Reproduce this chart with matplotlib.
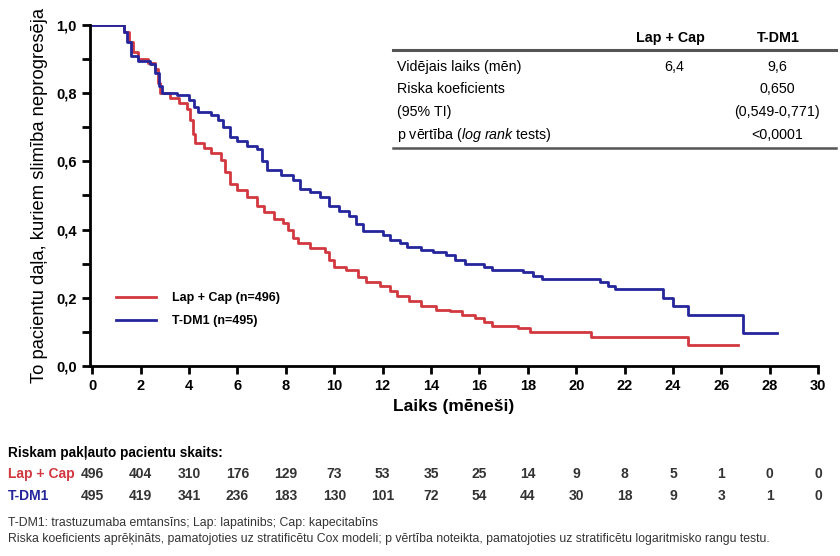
import matplotlib
matplotlib.use('Agg')
import matplotlib.pyplot as plt
import matplotlib.transforms as mtrans
from matplotlib.lines import Line2D
from matplotlib.ticker import FuncFormatter, MultipleLocator

plt.rcParams['font.family'] = ['Liberation Sans', 'DejaVu Sans']
plt.rcParams['mathtext.fontset'] = 'custom'
plt.rcParams['mathtext.it'] = 'Liberation Sans:italic'
plt.rcParams['mathtext.rm'] = 'Liberation Sans'

# Kaplan-Meier steps (months, fraction)
lap_t = [0, 1.3, 1.5, 1.7, 1.9, 2.3, 2.6, 2.7, 2.8, 3.2, 3.6, 3.9, 4.05, 4.15, 4.25,
         4.6, 4.9, 5.3, 5.5, 5.7, 6.0, 6.4, 6.8, 7.1, 7.5, 7.9, 8.1, 8.3, 8.5, 9.0,
         9.6, 9.8, 10.0, 10.5, 11.0, 11.3, 11.9, 12.3, 12.6, 13.1, 13.6, 14.2, 14.8,
         15.3, 15.8, 16.2, 16.5, 17.6, 18.1, 20.6, 24.6, 26.7]
lap_s = [1.0, 0.98, 0.95, 0.92, 0.90, 0.89, 0.87, 0.83, 0.80, 0.785, 0.77, 0.755, 0.72,
         0.68, 0.655, 0.64, 0.625, 0.605, 0.57, 0.535, 0.515, 0.495, 0.47, 0.45, 0.43,
         0.42, 0.40, 0.375, 0.36, 0.345, 0.335, 0.31, 0.29, 0.28, 0.26, 0.245, 0.235,
         0.22, 0.205, 0.19, 0.175, 0.165, 0.16, 0.15, 0.14, 0.13, 0.118, 0.11, 0.10,
         0.085, 0.06, 0.06]

tdm_t = [0, 1.3, 1.45, 1.6, 1.9, 2.4, 2.6, 2.75, 2.9, 3.5, 4.0, 4.2, 4.35, 4.9, 5.2,
         5.4, 5.7, 6.0, 6.4, 6.8, 7.0, 7.2, 7.8, 8.3, 8.6, 9.0, 9.4, 9.8, 10.2, 10.6,
         10.9, 11.2, 12.0, 12.3, 12.7, 13.0, 13.6, 14.1, 14.6, 15.0, 15.4, 16.2, 16.5,
         17.8, 18.2, 18.6, 21.0, 21.3, 21.6, 23.6, 24.0, 24.6, 26.9, 28.3]
tdm_s = [1.0, 0.98, 0.95, 0.91, 0.895, 0.885, 0.86, 0.82, 0.80, 0.795, 0.78, 0.76, 0.745,
         0.735, 0.72, 0.70, 0.67, 0.66, 0.645, 0.635, 0.60, 0.575, 0.56, 0.545, 0.52,
         0.51, 0.495, 0.47, 0.455, 0.44, 0.415, 0.395, 0.385, 0.37, 0.36, 0.35, 0.34,
         0.335, 0.325, 0.31, 0.30, 0.29, 0.28, 0.275, 0.265, 0.255, 0.245, 0.235, 0.225,
         0.20, 0.175, 0.15, 0.095, 0.095]

risk_times = list(range(0, 31, 2))
risk_lap = [496, 404, 310, 176, 129, 73, 53, 35, 25, 14, 9, 8, 5, 1, 0, 0]
risk_tdm = [495, 419, 341, 236, 183, 130, 101, 72, 54, 44, 30, 18, 9, 3, 1, 0]

red = '#d2383f'
blue = '#25259c'

fig = plt.figure(figsize=(8.4, 5.56), dpi=100)
ax = fig.add_axes([0.107, 0.342, 0.867, 0.613])

ax.step(lap_t, lap_s, where='post', color=red, lw=2, label='Lap + Cap (n=496)')
ax.step(tdm_t, tdm_s, where='post', color=blue, lw=2, label='T-DM1 (n=495)')

ax.set_xlim(-0.1, 30)
ax.set_ylim(0, 1.0)
ax.xaxis.set_major_locator(MultipleLocator(2))
ax.yaxis.set_major_locator(MultipleLocator(0.2))
ax.yaxis.set_minor_locator(MultipleLocator(0.1))
ax.yaxis.set_major_formatter(FuncFormatter(lambda v, p: f'{v:.1f}'.replace('.', ',')))
for s in ['top', 'right']:
    ax.spines[s].set_visible(False)
for s in ['left', 'bottom']:
    ax.spines[s].set_linewidth(2)
ax.tick_params(which='both', direction='out', width=2, length=6, labelsize=10.5)
for lab in ax.get_xticklabels() + ax.get_yticklabels():
    lab.set_fontweight('bold')

ax.set_xlabel('Laiks (mēneši)', fontsize=12.5, fontweight='bold', labelpad=4)
ax.set_ylabel('To pacientu daļa, kuriem slimība neprogresēja', fontsize=13.2, labelpad=6)

leg = ax.legend(loc='lower left', bbox_to_anchor=(0.02, 0.08), frameon=False,
                prop={'weight': 'bold', 'size': 9}, handlelength=3.2, handletextpad=1.3,
                labelspacing=0.9)

# statistics table in top right
W, H = 840, 556
def fx(px):
    return px / W
def fy(py):
    return 1 - py / H

tfs = 10.3
fig.text(fx(670), fy(38), 'Lap + Cap', ha='center', va='center', fontsize=tfs, fontweight='bold')
fig.text(fx(778), fy(38), 'T-DM1', ha='center', va='center', fontsize=tfs, fontweight='bold')
fig.add_artist(Line2D([fx(393), fx(836)], [fy(50), fy(50)], color='#555555', lw=2.2))
rows_left = ['Vidējais laiks (mēn)', 'Riska koeficients', '(95% TI)',
             'p vērtība ($\\mathit{log\\ rank}$ tests)']
rows_c2 = ['6,4', '', '', '']
rows_c3 = ['9,6', '0,650', '(0,549-0,771)', '<0,0001']
row_y = [67, 89, 112, 135]
for lbl, c2, c3, yy in zip(rows_left, rows_c2, rows_c3, row_y):
    fig.text(fx(397), fy(yy), lbl, ha='left', va='center', fontsize=tfs)
    fig.text(fx(674), fy(yy), c2, ha='center', va='center', fontsize=tfs)
    fig.text(fx(777), fy(yy), c3, ha='center', va='center', fontsize=tfs)
fig.add_artist(Line2D([fx(393), fx(836)], [fy(148), fy(148)], color='#555555', lw=1.8))

# numbers at risk
tr = mtrans.blended_transform_factory(ax.transData, fig.transFigure)
fig.text(fx(8), fy(453), 'Riskam pakļauto pacientu skaits:', ha='left', va='center',
         fontsize=9.8, fontweight='bold')
fig.text(fx(8), fy(474), 'Lap + Cap', ha='left', va='center', fontsize=10,
         fontweight='bold', color=red)
fig.text(fx(8), fy(496), 'T-DM1', ha='left', va='center', fontsize=10,
         fontweight='bold', color=blue)
for t, a, b in zip(risk_times, risk_lap, risk_tdm):
    ax.text(t, fy(474), str(a), transform=tr, ha='center', va='center', fontsize=10,
            fontweight='bold', color='#333333', clip_on=False)
    ax.text(t, fy(496), str(b), transform=tr, ha='center', va='center', fontsize=10,
            fontweight='bold', color='#333333', clip_on=False)

fig.text(fx(8), fy(523), 'T-DM1: trastuzumaba emtansīns; Lap: lapatinibs; Cap: kapecitabīns',
         ha='left', va='center', fontsize=8.8, color='#333333')
fig.text(fx(8), fy(539), 'Riska koeficients aprēķināts, pamatojoties uz stratificētu Cox modeli; '
         'p vērtība noteikta, pamatojoties uz stratificētu logaritmisko rangu testu.',
         ha='left', va='center', fontsize=8.8, color='#333333')

fig.savefig('out.png', dpi=100)
